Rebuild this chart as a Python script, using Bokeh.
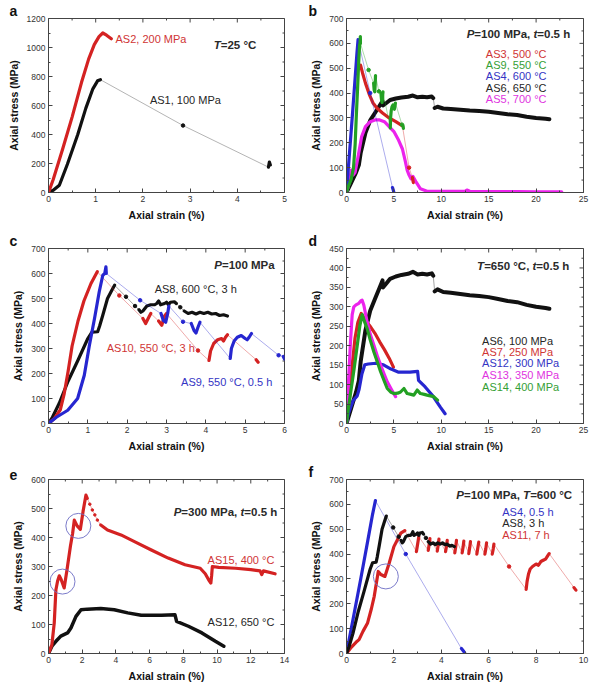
import numpy as np
from bokeh.plotting import figure
from bokeh.models import Range1d, FixedTicker, Label, Title
from bokeh.layouts import column, row
from bokeh.embed import file_html
from bokeh.resources import INLINE

FONT = "Liberation Sans"
RED = "#d42222"; BLACK = "#111111"; BLUE = "#2626d0"; GREEN = "#23a023"; MAG = "#ec22ec"
T_RED = "#d03535"; T_BLUE = "#3434c4"; T_GREEN = "#35a035"; T_MAG = "#e034e0"; T_BLK = "#262626"
N = None

# ---------------- data (strain %, stress MPa); None = break between dense segments
AS1 = [(0, 0), (0.1, 15), (0.23, 50), (0.4, 195), (0.62, 400), (0.79, 580), (0.94, 715), (1.04, 770), (1.1, 778),
       N, (2.85, 462), N, (4.66, 175), (4.68, 210), (4.7, 190)]
AS2 = [(0, 0), (0.1, 90), (0.3, 300), (0.5, 520), (0.7, 760), (0.85, 920), (0.97, 1020), (1.07, 1075), (1.15, 1100),
       (1.23, 1085), (1.33, 1060)]
AS3 = [(1.48, 512), (1.7, 480), (2.0, 440), (2.4, 395), (2.8, 360), (3.2, 340), (3.8, 320), (4.5, 300), (5.2, 285),
       (5.9, 268), N, (6.6, 100), N, (6.95, 60), (7.05, 40)]
AS4 = [(0, 0), (0.3, 150), (0.6, 300), (0.9, 455), (1.1, 560), (1.22, 615), N, (2.5, 400), N, (4.85, 20), (4.95, 8),
       (5.0, 0)]
AS5 = [(0, 0), (0.3, 40), (0.5, 90), (0.7, 70), (0.9, 80), (1.2, 140), (1.6, 225), (2.0, 265), (2.5, 285), (3.0, 292),
       (3.5, 292), (4.0, 285), (4.5, 265), (5.0, 245), (5.5, 210), (5.9, 175), (6.2, 126), (6.4, 90), (6.6, 70),
       (6.8, 55), (7.0, 65), (7.3, 45), (7.8, 15), (8.5, 5), (10, 5), (12.5, 5), (12.7, 10), (13, 5), (15, 4),
       (18, 4), (20, 3), (22.7, 3)]
AS6 = [(0, 0), (0.5, 40), (1.0, 80), (1.3, 110), (1.5, 160), (2.0, 240), (2.5, 290), (3.0, 320), (3.5, 350),
       (3.8, 368), (3.85, 350), (4.2, 360), (4.6, 372), (5.2, 378), (5.8, 382), (6.5, 385), (7.0, 390), (7.5, 383),
       (8.0, 385), (8.5, 383), (9.0, 386), (9.15, 380), N, (9.3, 340), (9.6, 345), (10.2, 338), (11, 336), (12, 333),
       (13, 330), (14, 328), (15, 325), (16, 320), (17, 315), (18, 312), (19, 305), (20, 300), (21, 297), (21.4, 295)]
AS7 = [(0, 0), (0.3, 60), (0.6, 150), (0.9, 220), (1.2, 260), (1.55, 283), (2.0, 265), (2.5, 250), (3.0, 232),
       (3.5, 210), (4.0, 190), (4.5, 168), (4.95, 145)]
AS8 = [(0, 0), (0.1, 25), (0.27, 80), (0.5, 170), (0.74, 250), (1.0, 340), (1.1, 365), (1.25, 367), (1.3, 390),
       (1.38, 433), (1.5, 500), (1.6, 530), (1.68, 553), N, (1.97, 507), N, (2.2, 470), N,
       (2.3, 455), (2.35, 445), (2.4, 450), (2.45, 460), (2.5, 470), (2.6, 475), (2.7, 475), (2.75, 480), (2.8, 490),
       (2.85, 475), (2.95, 480), (3.0, 485), (3.05, 475), (3.1, 485), (3.2, 487), (3.25, 480), N, (3.35, 465), N,
       (3.45, 450), (3.55, 440), (3.65, 445), (3.75, 438), (3.85, 445), (3.95, 440), (4.05, 445), (4.15, 438),
       (4.25, 440), (4.35, 432), (4.45, 435), (4.55, 430)]
AS9 = [(0, 0), (0.2, 25), (0.49, 53), (0.74, 100), (0.91, 193), (1.04, 313), (1.17, 420), (1.29, 527), (1.38, 593),
       (1.43, 600), (1.46, 627), (1.47, 600), N, (2.33, 493), N, (2.86, 440), (2.92, 412), (2.98, 405), (3.03, 440),
       (3.06, 470), N, (3.42, 407), N, (3.63, 400), (3.7, 372), (3.75, 362), (3.8, 385), (3.85, 405), N,
       (4.62, 260), (4.65, 300), (4.72, 330), (4.8, 345), (4.9, 352), (5.0, 340), (5.05, 335), (5.1, 345), (5.16, 360),
       N, (5.85, 273), N, (5.97, 268), (6.0, 258)]
AS10 = [(0, 0), (0.15, 20), (0.3, 55), (0.4, 120), (0.5, 210), (0.6, 310), (0.75, 410), (0.9, 490), (1.08, 560),
        (1.24, 607), N, (1.8, 512), N, (2.4, 420), (2.47, 400), (2.55, 425), (2.6, 440), N,
        (2.8, 410), (2.88, 393), (2.95, 430), (3.0, 440), N, (3.8, 292), N,
        (4.08, 252), (4.12, 290), (4.2, 320), (4.3, 335), (4.4, 340), (4.45, 330), (4.5, 345), (4.55, 355), N,
        (5.28, 255), (5.33, 245)]
AS11 = [(0, 0), (0.2, 25), (0.4, 45), (0.53, 56), (0.7, 90), (0.89, 123), (1.05, 180), (1.17, 230), (1.34, 330),
        (1.45, 318), (1.62, 310), (1.8, 363), (2.0, 430), (2.29, 484), (2.46, 494), N,
        (2.95, 410), (3.0, 440), (3.05, 470), N, (3.45, 415), (3.49, 440), (3.52, 462), N,
        (3.83, 412), (3.87, 437), (3.9, 460), N, (4.18, 410), (4.22, 433), (4.25, 455), N,
        (4.57, 405), (4.61, 430), (4.64, 455), N, (4.88, 405), (4.92, 428), (4.95, 452), N,
        (5.16, 402), (5.2, 426), (5.23, 450), N, (5.5, 400), (5.54, 424), (5.58, 448), N,
        (5.84, 400), (5.88, 422), (5.91, 445), N, (6.15, 400), (6.19, 420), (6.22, 440), N, (6.86, 350), N,
        (7.58, 258), (7.62, 290), (7.68, 320), (7.75, 340), (7.85, 350), (8.0, 360), (8.1, 355), (8.2, 370),
        (8.3, 375), (8.4, 380), (8.5, 395), (8.55, 402), N, (9.6, 265), (9.68, 255)]
AS12 = [(0, 0), (0.2, 25), (0.44, 42), (0.73, 60), (1.13, 71), (1.33, 88), (1.63, 128), (1.93, 151), (2.3, 153),
        (3.1, 155), (3.9, 151), (4.7, 140), (5.5, 132), (6.7, 132), (7.5, 134), (7.6, 111), (8.3, 94), (9.1, 71),
        (9.9, 42), (10.4, 25)]
AS13 = [(0, 0), (0.2, 100), (0.42, 210), (0.6, 280), (0.77, 300), (1.0, 305), (1.3, 309), (1.5, 315), (1.65, 317),
        (1.83, 304), (2.18, 261), (2.5, 230), (2.89, 201), (3.3, 170), (3.6, 150), (4.0, 125), (4.3, 107),
        (4.8, 85), (5.18, 69)]
AS14 = [(0, 0), (0.2, 40), (0.5, 90), (0.8, 140), (1.1, 195), (1.4, 250), (1.65, 280), (1.9, 262), (2.18, 244),
        (2.5, 215), (2.89, 184), (3.3, 155), (3.6, 133), (4.0, 108), (4.3, 90), (4.7, 80), (5.0, 77), (5.4, 78),
        (5.7, 81), (6.06, 90), (6.4, 77), (6.8, 75), (7.1, 73), (7.46, 86), (7.8, 77), (8.2, 75), (8.5, 73),
        (9.2, 69), (9.6, 60)]
AS15 = [(0, 0), (0.2, 30), (0.34, 105), (0.44, 220), (0.54, 250), (0.64, 268), (0.75, 255), (0.93, 226), (1.1, 290),
        (1.3, 370), (1.43, 414), (1.53, 460), (1.7, 440), (1.89, 428), (2.05, 490), (2.22, 546), (2.3, 535), N,
        (2.45, 515), N, (2.6, 495), N, (2.75, 478), N, (2.9, 460), N,
        (3.1, 443), (3.5, 426), (4.3, 409), (5.1, 386), (6.1, 357), (7.1, 329), (8.1, 306), (9.0, 294), (9.3, 275),
        (9.5, 254), (9.63, 243), (9.68, 270), (9.72, 300), (10.1, 297), (11.1, 294), (12.0, 289), (12.55, 285),
        (12.65, 272), (12.75, 285), (13.44, 275)]
CIRCLES_E = [(0.83, 248), (1.77, 440)]
CIRCLES_F = [(1.66, 310)]

# axis ticks
A_XT = [0, 1, 2, 3, 4, 5]; A_YT = [0, 200, 400, 600, 800, 1000, 1200]
B_XT = [0, 5, 10, 15, 20, 25]; B_YT = [0, 100, 200, 300, 400, 500, 600, 700]
C_XT = [0, 1, 2, 3, 4, 5, 6]; C_YT = [0, 100, 200, 300, 400, 500, 600, 700]
D_XT = [0, 5, 10, 15, 20, 25]; D_YT = [0, 50, 100, 150, 200, 250, 300, 350, 400, 450]
E_XT = [0, 2, 4, 6, 8, 10, 12, 14]; E_YT = [0, 100, 200, 300, 400, 500, 600]
F_XT = [0, 2, 4, 6, 8, 10]; F_YT = [0, 100, 200, 300, 400, 500, 600, 700]

XLAB = "Axial strain (%)"
YLAB = "Axial stress (MPa)"

BOLD_W = {' ': 278, ',': 278, '.': 278, '=': 584, '°': 400, 'A': 722, 'C': 722, 'M': 833, 'P': 667,
          'S': 667, 'T': 611, 'a': 556, 'h': 611, 't': 333}

AXC = "#444444"


def mids(t):
    return [(a + b) / 2 for a, b in zip(t[:-1], t[1:])]


def style_axis(ax, label):
    ax.axis_line_color = AXC
    ax.major_tick_line_color = AXC
    ax.minor_tick_line_color = AXC
    ax.major_tick_in = 4
    ax.major_tick_out = 0
    ax.minor_tick_in = 2
    ax.minor_tick_out = 0
    ax.axis_label = label
    ax.axis_label_text_font = FONT
    ax.axis_label_text_font_style = "bold"
    ax.axis_label_text_font_size = "10.5px"
    ax.axis_label_text_color = "#111111"
    ax.axis_label_standoff = 4
    ax.major_label_text_font = FONT
    ax.major_label_text_font_size = "8.5px"
    ax.major_label_text_color = "#333333"
    ax.major_label_standoff = 3


def make_fig(col, rown, xr, yr, xt, yt, letter):
    w = 306 if col == 0 else 292
    heights = [228, 231, 225]
    tops = [16, 20, 20]
    bots = [36, 36, 30]
    p = figure(width=w, height=heights[rown], x_range=Range1d(xr[0], xr[1]), y_range=Range1d(yr[0], yr[1]),
               output_backend="svg", toolbar_location=None,
               min_border_left=(48 if col == 0 else 40), min_border_right=(22 if col == 0 else 15),
               min_border_top=tops[rown], min_border_bottom=bots[rown])
    p.title = Title(text=letter, align="left", offset=(-39 if col == 0 else -38), standoff=0,
                    text_font=FONT, text_font_style="bold", text_font_size="14px", text_color="#111111",
                    vertical_align="bottom")
    p.xgrid.visible = False
    p.ygrid.visible = False
    p.outline_line_color = AXC
    p.background_fill_color = "white"
    p.border_fill_color = "white"
    p.xaxis.ticker = FixedTicker(ticks=xt, minor_ticks=mids(xt))
    p.yaxis.ticker = FixedTicker(ticks=yt, minor_ticks=mids(yt))
    style_axis(p.xaxis[0], XLAB)
    style_axis(p.yaxis[0], YLAB)
    # mirrored inward ticks on the top and right edges of the frame
    p.scatter(xt, [yr[1]] * len(xt), marker="dash", angle=np.pi / 2, size=8, line_color=AXC, line_width=1)
    p.scatter(mids(xt), [yr[1]] * (len(xt) - 1), marker="dash", angle=np.pi / 2, size=4, line_color=AXC,
              line_width=1)
    p.scatter([xr[1]] * len(yt), yt, marker="dash", size=8, line_color=AXC, line_width=1)
    p.scatter([xr[1]] * (len(yt) - 1), mids(yt), marker="dash", size=4, line_color=AXC, line_width=1)
    return p


def series(p, pts, color, lw=3.2, thin_alpha=0.55, dot=3.5):
    x = np.array([np.nan if q is None else q[0] for q in pts], dtype=float)
    y = np.array([np.nan if q is None else q[1] for q in pts], dtype=float)
    m = ~np.isnan(x)
    p.line(x[m], y[m], line_width=0.7, color=color, alpha=thin_alpha)
    p.line(x, y, line_width=lw, color=color, line_join="round", line_cap="round")
    n = len(x)
    iso = [i for i in range(n) if m[i] and (i == 0 or not m[i - 1]) and (i == n - 1 or not m[i + 1])]
    if iso:
        p.scatter(x[iso], y[iso], size=dot, color=color)


def lab(p, x, y, text, color, align="left", size=11):
    p.add_layout(Label(x=x, y=y, text=text, text_font=FONT, text_font_size=f"{size}px", text_color=color,
                       text_align=align, text_baseline="middle"))


def rich(p, x, y, parts, align="right", size=11.5, color="#2a2a2a"):
    widths = [sum(BOLD_W.get(ch, 556) for ch in s) / 1000 * size for s, _ in parts]
    off = 0 if align == "left" else -sum(widths)
    for (s, st), wd in zip(parts, widths):
        p.add_layout(Label(x=x, y=y, x_offset=off, text=s, text_font=FONT, text_font_style=st,
                           text_font_size=f"{size}px", text_color=color, text_align="left",
                           text_baseline="middle"))
        off += wd


def circles(p, pts):
    p.scatter([q[0] for q in pts], [q[1] for q in pts], marker="circle", size=25, fill_color=None,
              line_color="#6c6cc4", line_width=0.9)


BI = "bold italic"; B = "bold"

# ---- a
pa = make_fig(0, 0, (0, 5), (0, 1200), A_XT, A_YT, "a")
series(pa, AS1, BLACK, thin_alpha=0.45)
series(pa, AS2, RED)
lab(pa, 1.42, 1059, "AS2, 200 MPa", T_RED)
lab(pa, 2.9, 640, "AS1, 100 MPa", T_BLK, align="center")
rich(pa, 3.5, 1016, [("T", BI), ("=25 °C", B)], align="left")

# ---- b
pb = make_fig(1, 0, (0, 25), (0, 700), B_XT, B_YT, "b")
series(pb, AS6, BLACK, lw=4)
series(pb, AS5, MAG)
series(pb, AS3, RED)
series(pb, AS4, BLUE)
series(pb, AS9, GREEN)
rich(pb, 23.6, 637, [("P", BI), ("=100 MPa, ", B), ("t", BI), ("=0.5 h", B)])
for txt, yy, c in [("AS3, 500 °C", 557, T_RED), ("AS9, 550 °C", 514, T_GREEN), ("AS4, 600 °C", 469, T_BLUE),
                   ("AS6, 650 °C", 421, T_BLK), ("AS5, 700 °C", 375, T_MAG)]:
    lab(pb, 14.7, yy, txt, c)

# ---- c
pc = make_fig(0, 1, (0, 6), (0, 700), C_XT, C_YT, "c")
series(pc, AS8, BLACK)
series(pc, AS10, RED)
series(pc, AS9, BLUE)
rich(pc, 5.75, 636, [("P", BI), ("=100 MPa", B)])
lab(pc, 2.7, 540, "AS8, 600 °C, 3 h", T_BLK)
lab(pc, 1.48, 301, "AS10, 550 °C, 3 h", T_RED)
lab(pc, 3.37, 165, "AS9, 550 °C, 0.5 h", T_BLUE)

# ---- d
pd_ = make_fig(1, 1, (0, 25), (0, 450), D_XT, D_YT, "d")
series(pd_, AS6, BLACK, lw=4)
series(pd_, AS7, RED)
series(pd_, AS12, BLUE)
series(pd_, AS13, MAG)
series(pd_, AS14, GREEN)
rich(pd_, 23.5, 406, [("T", BI), ("=650 °C, ", B), ("t", BI), ("=0.5 h", B)])
for txt, yy, c in [("AS6, 100 MPa", 213, T_BLK), ("AS7, 250 MPa", 183, T_RED), ("AS12, 300 MPa", 155, T_BLUE),
                   ("AS13, 350 MPa", 125, T_MAG), ("AS14, 400 MPa", 95, T_GREEN)]:
    lab(pd_, 14.3, yy, txt, c)

# ---- e
pe = make_fig(0, 2, (0, 14), (0, 600), E_XT, E_YT, "e")
series(pe, AS12, BLACK, lw=3.5)
series(pe, AS15, RED, dot=2.5)
circles(pe, CIRCLES_E)
rich(pe, 13.57, 488, [("P", BI), ("=300 MPa, ", B), ("t", BI), ("=0.5 h", B)])
lab(pe, 13.4, 322, "AS15, 400 °C", T_RED, align="right")
lab(pe, 13.4, 109, "AS12, 650 °C", T_BLK, align="right")

# ---- f
pf = make_fig(1, 2, (0, 10), (0, 700), F_XT, F_YT, "f")
series(pf, AS4, BLUE)
series(pf, AS11, RED)
series(pf, AS8, BLACK)
circles(pf, CIRCLES_F)
rich(pf, 9.52, 636, [("P", BI), ("=100 MPa, ", B), ("T", BI), ("=600 °C", B)])
lab(pf, 6.57, 569, "AS4, 0.5 h", T_BLUE)
lab(pf, 6.57, 523, "AS8, 3 h", T_BLK)
lab(pf, 6.57, 476, "AS11, 7 h", T_RED)

layout = column(row(pa, pb), row(pc, pd_), row(pe, pf))
open("out.html", "w").write(file_html(layout, INLINE))
